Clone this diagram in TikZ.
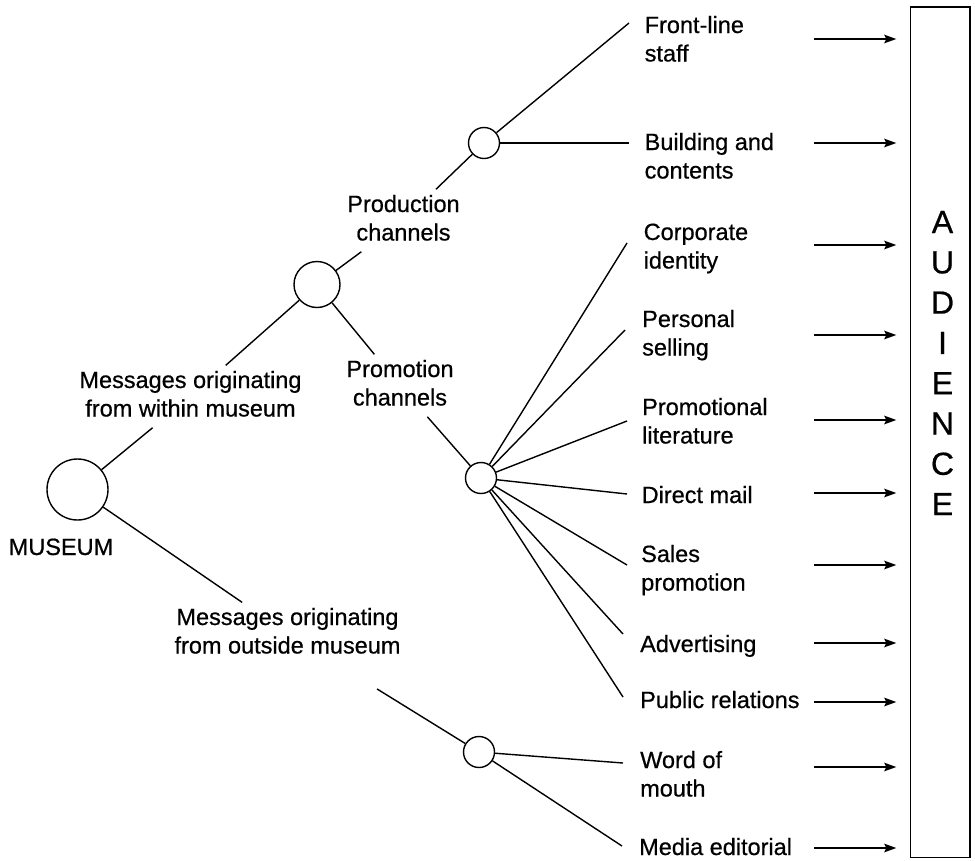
\documentclass[tikz,border=0pt]{standalone}
\usepackage{fontspec}
\setmainfont{Liberation Sans}[FakeBold=0.6]
\usetikzlibrary{arrows.meta}
\newcommand\lfont{\fontsize{23.5}{28.5}\selectfont}
\newcommand\twol[2]{\begin{tabular}[t]{@{}l@{}}#1\\#2\end{tabular}}
\newcommand\twoc[2]{\begin{tabular}[t]{@{}c@{}}#1\\#2\end{tabular}}
\begin{document}
\begin{tikzpicture}[x=1pt,y=-1pt,line width=1.4pt,
  dot/.style={circle,draw,inner sep=0pt,fill=white},
  lbl/.style={anchor=base west,inner sep=0pt,font=\lfont},
  clbl/.style={anchor=base,inner sep=2pt,font=\lfont},
  arr/.style={-{Stealth[length=12pt,width=8.5pt,inset=2pt]},line width=1.6pt,shorten >=13.5pt}
]
\useasboundingbox (0,0) rectangle (975,860);

% circles
\node[dot,minimum size=61pt] (c1) at (77.5,489.5) {};
\node[dot,minimum size=46pt] (c2) at (317,284.5) {};
\node[dot,minimum size=31pt] (c3) at (484,143) {};
\node[dot,minimum size=31pt] (c4) at (481,478) {};
\node[dot,minimum size=31pt] (c5) at (479,752) {};

% branch labels
\node[anchor=base,inner sep=0pt,font=\lfont] (mus) at (61,555) {MUSEUM};
\node[clbl] (within) at (190.5,388) {\twoc{Messages originating}{from within museum}};
\node[clbl] (outside) at (287.5,625) {\twoc{Messages originating}{from outside museum}};
\node[clbl] (prod) at (403.5,212) {\twoc{Production}{channels}};
\node[clbl] (prom) at (400,377) {\twoc{Promotion}{channels}};

\draw (c1) -- (within) -- (c2);
\draw (c2) -- (prod) -- (c3);
\draw (c2) -- (prom) -- (c4);
\draw (c1) -- (outside);
\draw[shorten <=46pt] (outside) -- (c5);

% channel labels
\node[lbl] (front)  at (644,33)    {\twol{Front-line}{staff}};
\node[lbl] (build)  at (644,150)   {\twol{Building and}{contents}};
\node[lbl] (corp)   at (643,240)   {\twol{Corporate}{identity}};
\node[lbl] (pers)   at (641.5,327) {\twol{Personal}{selling}};
\node[lbl] (lit)    at (641.5,415) {\twol{Promotional}{literature}};
\node[lbl] (mail)   at (641,503)   {Direct mail};
\node[lbl] (sales)  at (640.5,562) {\twol{Sales}{promotion}};
\node[lbl] (adv)    at (639.5,652) {Advertising};
\node[lbl] (pr)     at (639.5,708) {Public relations};
\node[lbl] (wom)    at (639.5,768) {\twol{Word of}{mouth}};
\node[lbl] (media)  at (638.5,855) {Media editorial};

% line ends near channel labels
\coordinate (e-front) at (629,23);
\coordinate (e-build) at (629,143);
\coordinate (e-corp)  at (627,243);
\coordinate (e-pers)  at (625,330);
\coordinate (e-lit)   at (627,421);
\coordinate (e-mail)  at (627,494);
\coordinate (e-sales) at (627,565);
\coordinate (e-adv)   at (623,634);
\coordinate (e-pr)    at (623,697);
\coordinate (e-wom)   at (623,763);
\coordinate (e-media) at (622,846);

\draw (c3) -- (e-front);
\draw (c3) -- (e-build);
\foreach \t in {corp,pers,lit,mail,sales,adv,pr} \draw (c4) -- (e-\t);
\draw (c5) -- (e-wom);
\draw (c5) -- (e-media);

% audience box
\node[draw,minimum width=59.5pt,minimum height=850.5pt,inner sep=0pt] (aud) at (940.25,432.25) {};
\node[anchor=base,inner sep=0pt,font=\fontsize{32}{40.3}\selectfont] (audtxt) at (942.5,233)
  {\begin{tabular}[t]{@{}c@{}}A\\U\\D\\I\\E\\N\\C\\E\end{tabular}};

\foreach \y [count=\i] in {39,143,245,335,420,493,565,643,702,767,848} {
  \coordinate (s\i) at (814,\y);
  \draw[arr] (s\i) -- (s\i -| aud.west);
}
\end{tikzpicture}
\end{document}
